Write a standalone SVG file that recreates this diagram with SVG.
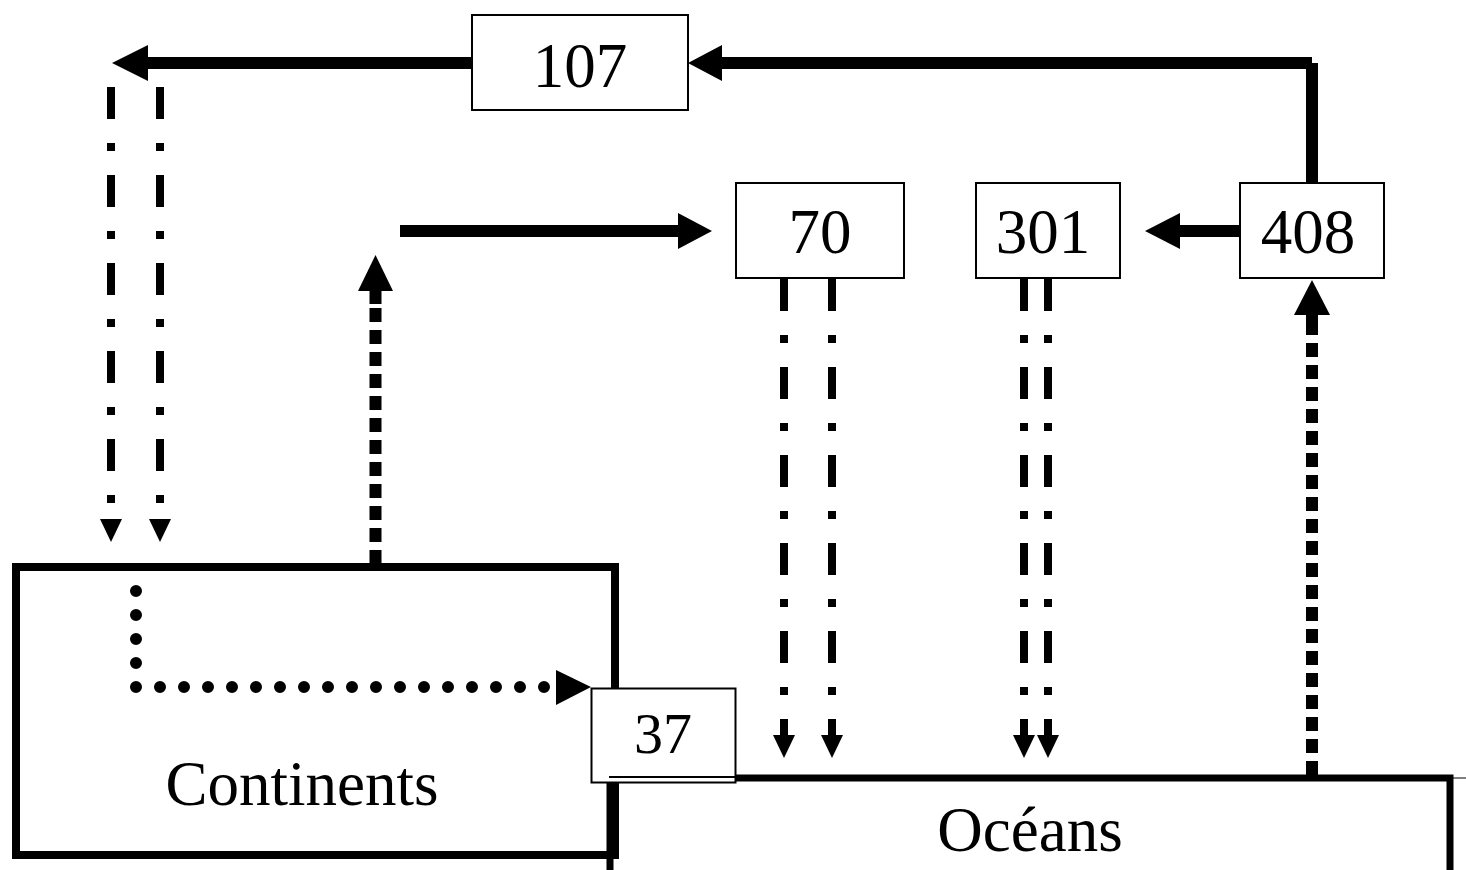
<svg xmlns="http://www.w3.org/2000/svg" width="1466" height="870" viewBox="0 0 1466 870">
<style>
.box{fill:#fff;stroke:#000;stroke-width:2}
.big{fill:none;stroke:#000;stroke-width:8}
.t{font-family:"Liberation Serif","Times New Roman",serif;font-size:63px;fill:#000;text-anchor:middle}
.solid{stroke:#000;stroke-width:12;fill:none;stroke-linecap:butt}
.dd{stroke:#000;stroke-width:8;fill:none;stroke-dasharray:32 24 8 24}
.sq{stroke:#000;stroke-width:12;fill:none;stroke-dasharray:14 8}
.dot{stroke:#000;stroke-width:12;fill:none;stroke-dasharray:0 24;stroke-linecap:round}
.ah{fill:#000}
</style>
<rect width="1466" height="870" fill="#fff"/>
<g id="continents">
<rect class="big" x="16" y="567" width="599" height="288"/>
<text class="t" x="302" y="805">Continents</text>
</g>
<g id="oceans">
<path d="M610,870 L610,778 L1450,778 L1450,870" fill="none" stroke="#000" stroke-width="7"/>
<line x1="1450" y1="778" x2="1466" y2="778" stroke="#000" stroke-width="1"/>
<text class="t" x="1030" y="851">Océans</text>
</g>
<g id="connectors">
<line class="solid" x1="1312" y1="183" x2="1312" y2="63"/>
<line class="solid" x1="1312" y1="63" x2="722" y2="63"/>
<polygon class="ah" points="722,45 688,63 722,81"/>
<line class="solid" x1="472" y1="63" x2="148" y2="63"/>
<polygon class="ah" points="148,45 112,63 148,81"/>
<line class="solid" x1="1240" y1="231" x2="1180" y2="231"/>
<polygon class="ah" points="1180,213 1145,231 1180,249"/>
<line class="sq" x1="1312" y1="775" x2="1312" y2="327"/>
<line class="solid" x1="1312" y1="328" x2="1312" y2="314"/>
<polygon class="ah" points="1294,315 1312,280 1330,315"/>
<line class="sq" x1="375.5" y1="564" x2="375.5" y2="303"/>
<line class="solid" x1="375.5" y1="304" x2="375.5" y2="290"/>
<polygon class="ah" points="358,291 375.5,255 393,291"/>
<line class="solid" x1="400" y1="231" x2="679" y2="231"/>
<polygon class="ah" points="678,213 712,231 678,249"/>
<line class="dd" x1="111" y1="87" x2="111" y2="520"/>
<polygon class="ah" points="100,519 122,519 111,542"/>
<line class="dd" x1="160" y1="87" x2="160" y2="520"/>
<polygon class="ah" points="149,519 171,519 160,542"/>
<line class="dd" x1="784" y1="279" x2="784" y2="736"/>
<polygon class="ah" points="773,735 795,735 784,758"/>
<line class="dd" x1="832" y1="279" x2="832" y2="736"/>
<polygon class="ah" points="821,735 843,735 832,758"/>
<line class="dd" x1="1024" y1="279" x2="1024" y2="736"/>
<polygon class="ah" points="1013,735 1035,735 1024,758"/>
<line class="dd" x1="1048" y1="279" x2="1048" y2="736"/>
<polygon class="ah" points="1037,735 1059,735 1048,758"/>
<path class="dot" d="M136,591 L136,687 L545,687"/>
<polygon class="ah" points="556,670 591,687 556,705"/>
</g>
<g id="n107">
<rect class="box" x="472" y="15" width="216" height="95"/>
<text class="t" x="580" y="87">107</text>
</g>
<g id="n70">
<rect class="box" x="736" y="183" width="168" height="95"/>
<text class="t" x="820" y="253">70</text>
</g>
<g id="n301">
<rect class="box" x="976" y="183" width="144" height="95"/>
<text class="t" x="1043" y="253">301</text>
</g>
<g id="n408">
<rect class="box" x="1240" y="183" width="144" height="95"/>
<text class="t" x="1308" y="253">408</text>
</g>
<g id="n37">
<rect class="box" x="591.5" y="688.5" width="144" height="94"/>
<line x1="609" y1="777" x2="736" y2="777" stroke="#000" stroke-width="2"/>
<text class="t" x="663" y="753" style="font-size:58px">37</text>
</g>
</svg>
